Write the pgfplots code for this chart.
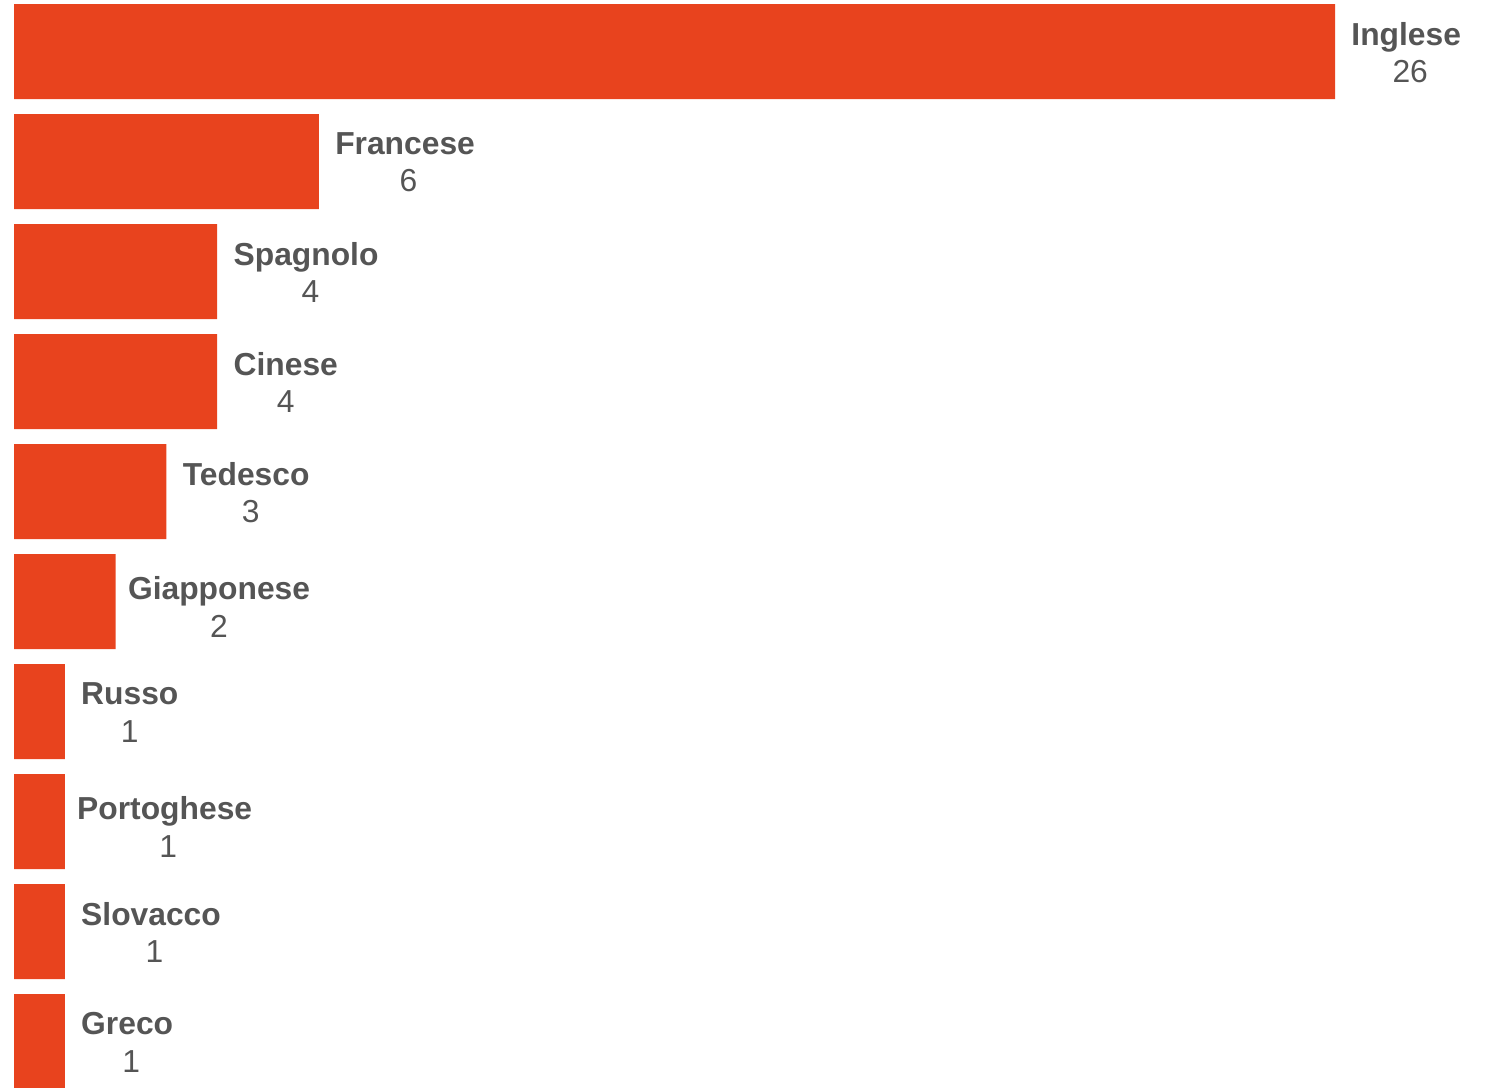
\documentclass[border=0pt]{standalone}
\usepackage{pgfplots}
\usepackage{pgfplotstable}
\pgfplotsset{compat=1.18}
\usepackage{fontspec}
\setmainfont{Liberation Sans}
\definecolor{barred}{HTML}{E8431E}
\definecolor{labgray}{HTML}{555555}
\pgfplotstableread[col sep=comma]{
y,value,label,dx,dy
0,26,{\textbf{Inglese}\\\hspace*{4pt}26},0,0.5
1,6,{\textbf{Francese}\\\hspace*{3.5pt}6},0,0.5
2,4,{\textbf{Spagnolo}\\\hspace*{4.5pt}4},0,0.5
3,4,{\textbf{Cinese}\\4},0,0.5
4,3,{\textbf{Tedesco}\\\hspace*{4.5pt}3},0,0.5
5,2,{\textbf{Giapponese}\\2},-2,2.8
6,1,{\textbf{Russo}\\1},0,0.5
7,1,{\textbf{Portoghese}\\\hspace*{3.5pt}1},-2,2.8
8,1,{\textbf{Slovacco}\\\hspace*{3.5pt}1},0,0.5
9,1,{\textbf{Greco}\\\hspace*{4pt}1},0,0.5
}\langdata
\begin{document}
\begin{tikzpicture}
\begin{axis}[
  at={(0pt,0pt)}, anchor=south west,
  width=738.5pt, height=543.5pt, scale only axis,
  hide axis,
  xbar, bar width=47.5pt,
  xmin=0, xmax=29.07,
  ymin=-0.4682, ymax=9.4136,
  y dir=reverse,
  clip=false,
  point meta=explicit symbolic,
  visualization depends on={\thisrow{dy} \as \dy},
  visualization depends on={\thisrow{dx} \as \dx},
  nodes near coords,
  every node near coord/.append style={anchor=west, align=center, inner sep=0pt, xshift=8pt+\dx pt, yshift=-\dy pt, text=labgray, font=\fontsize{15.9}{18.7}\selectfont},
]
\addplot[fill=barred, draw=none] table[x=value, y=y, meta=label] {\langdata};
\end{axis}
\pgfresetboundingbox
\path[use as bounding box] (-7pt,0pt) rectangle (738.5pt,543.5pt);
\end{tikzpicture}
\end{document}
